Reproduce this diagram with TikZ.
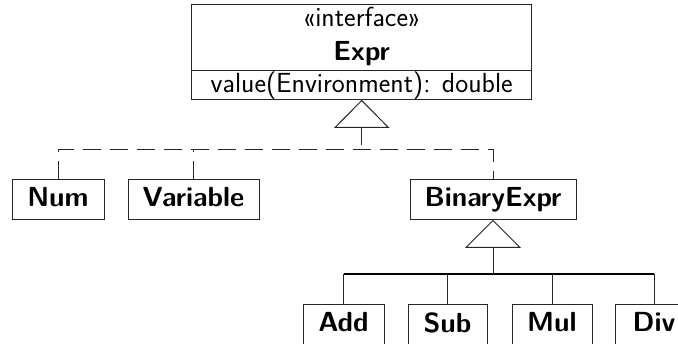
\documentclass[tikz,border=0pt]{standalone}
\usetikzlibrary{positioning,calc}
\newcommand{\bigtxt}[1]{\scalebox{1.255}{\vphantom{Ay}#1}}
\begin{document}
\begin{tikzpicture}[x=1pt,y=-1pt,
  every node/.style={font=\fontsize{22}{26}\selectfont\sffamily},
  cls/.style={draw=black!85,line width=1pt,rectangle,minimum height=40pt,inner sep=0pt,font=\fontsize{22}{26}\selectfont\sffamily\bfseries},
  ln/.style={draw=black!85,line width=1pt},
  real/.style={draw=black!85,line width=1pt,dash pattern=on 18pt off 9pt},
  bar/.style={draw=black,line width=2pt}]
\useasboundingbox (0,0) rectangle (678,344);
% interface box
\node[draw=black!85,line width=1pt,minimum width=340pt,minimum height=95pt,inner sep=0pt] (expr) at (361.7,52.5) {};
\draw[ln] (191.7,71) -- (531.7,71);
\node[anchor=base,inner sep=0pt] (stereo) at (361.7,27) {\bigtxt{\guillemotleft interface\guillemotright}};
\node[anchor=base,inner sep=0pt,font=\fontsize{22}{26}\selectfont\sffamily\bfseries] (ename) at (361.7,60.5) {\bigtxt{Expr}};
\node[anchor=base,inner sep=0pt] (op) at (361.7,92.5) {\bigtxt{value(Environment): double}};
% classes
\node[cls,minimum width=92pt] (num) at (58,200) {\bigtxt{Num}};
\node[cls,minimum width=131pt] (var) at (193.5,200) {\bigtxt{Variable}};
\node[cls,minimum width=166pt] (bin) at (493,200) {\bigtxt{BinaryExpr}};
\node[cls,minimum width=81pt] (add) at (343.5,325) {\bigtxt{Add}};
\node[cls,minimum width=79pt] (sub) at (447.5,325) {\bigtxt{Sub}};
\node[cls,minimum width=80pt] (mul) at (552,325) {\bigtxt{Mul}};
\node[cls,minimum width=78pt] (div) at (654,325) {\bigtxt{Div}};
% realization triangle
\draw[ln,fill=white] (expr.south) -- ++(-26.7,27) coordinate (t1l) -- ++(53.4,0) coordinate (t1r) -- cycle;
\coordinate (t1b) at ($(t1l)!0.5!(t1r)$);
\coordinate (j1) at (t1b |- 0,150);
\draw[real] (t1b) -- (j1);
\draw[real] (num.north) -- (num.north |- j1) -- (bin.north |- j1) -- (bin.north);
\draw[real] (var.north) -- (var.north |- j1);
% generalization triangle
\draw[ln,fill=white] (bin.south) -- ++(-27,27) coordinate (t2l) -- ++(54,0) coordinate (t2r) -- cycle;
\coordinate (t2b) at ($(t2l)!0.5!(t2r)$);
\coordinate (j2) at (t2b |- 0,274);
\draw[ln] (t2b) -- (j2);
\draw[bar] (add.north |- j2) -- (div.north |- j2);
\foreach \n in {add,sub,mul,div} \draw[ln] (\n.north |- j2) -- (\n.north);
\end{tikzpicture}
\end{document}
